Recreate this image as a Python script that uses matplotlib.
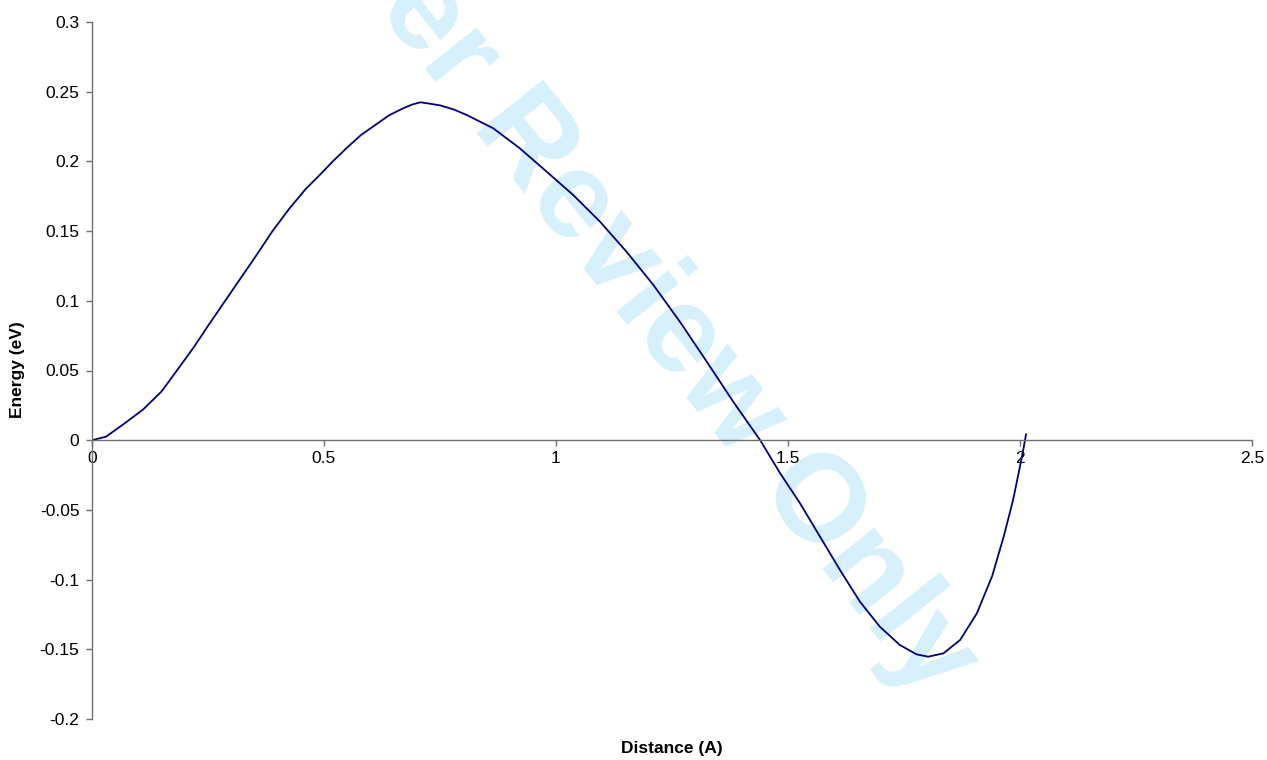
import matplotlib
matplotlib.use("Agg")
import matplotlib.pyplot as plt

plt.rcParams['font.family'] = ['Liberation Sans', 'DejaVu Sans']

# energy profile
distance = [0.0, 0.03, 0.068, 0.11, 0.15, 0.183, 0.22, 0.25, 0.287, 0.32,
            0.355, 0.389, 0.425, 0.46, 0.49, 0.519, 0.55, 0.58, 0.61, 0.64,
            0.67, 0.69, 0.708, 0.73, 0.75, 0.78, 0.8075, 0.865, 0.922, 0.98,
            1.037, 1.095, 1.152, 1.21, 1.267, 1.325, 1.382, 1.44, 1.483, 1.526,
            1.569, 1.612, 1.655, 1.698, 1.741, 1.777, 1.802, 1.835, 1.871, 1.907,
            1.94, 1.965, 1.985, 1.998, 2.007, 2.013]
energy = [0.0, 0.0025, 0.0115, 0.022, 0.035, 0.05, 0.067, 0.082, 0.1, 0.116,
          0.133, 0.15, 0.166, 0.180, 0.190, 0.2, 0.210, 0.219, 0.226, 0.233,
          0.238, 0.2408, 0.2424, 0.2413, 0.2402, 0.2372, 0.2333, 0.2237, 0.2094, 0.1926,
          0.1759, 0.1567, 0.1352, 0.1113, 0.085, 0.0563, 0.0276, 0.0, -0.0237, -0.0453,
          -0.0692, -0.0931, -0.1158, -0.1338, -0.1469, -0.1536, -0.1553, -0.1529, -0.1433, -0.1242,
          -0.0975, -0.069, -0.043, -0.022, -0.007, 0.0042]

x_ticks = [0, 0.5, 1, 1.5, 2, 2.5]
x_labels = ['0', '0.5', '1', '1.5', '2', '2.5']
y_ticks = [0.3, 0.25, 0.2, 0.15, 0.1, 0.05, 0, -0.05, -0.1, -0.15, -0.2]
y_labels = ['0.3', '0.25', '0.2', '0.15', '0.1', '0.05', '0', '-0.05', '-0.1', '-0.15', '-0.2']

fig = plt.figure(figsize=(12.67, 7.6), dpi=100)
ax = fig.add_axes([92 / 1267, 1 - 719 / 760, 1160 / 1267, 697 / 760])
ax.patch.set_alpha(0)

# watermark, under everything
fig.text(532 / 1267, 1 - 204 / 760, 'For Peer Review Only', color='#d6f0fc',
         fontsize=89, fontweight='bold', rotation=-51.5, rotation_mode='anchor',
         ha='center', va='baseline', zorder=-5)

ax.plot(distance, energy, color='#000080', lw=1.3)

ax.set_xlim(0, 2.5)
ax.set_ylim(-0.2, 0.3)
ax.spines['top'].set_visible(False)
ax.spines['right'].set_visible(False)
ax.spines['bottom'].set_position(('data', 0))
for s in ('left', 'bottom'):
    ax.spines[s].set_color('#707070')
    ax.spines[s].set_linewidth(1.0)

ax.set_xticks(x_ticks)
ax.set_xticklabels(x_labels)
ax.set_yticks(y_ticks)
ax.set_yticklabels(y_labels)
ax.tick_params(axis='both', direction='out', length=4, width=1, color='#707070',
               labelsize=12.5, labelcolor='black')
ax.tick_params(axis='x', pad=4)
ax.tick_params(axis='y', pad=5)

fig.text(18 / 1267, 1 - 370 / 760, 'Energy (eV)', rotation=90, ha='center', va='center',
         fontsize=12.5, fontweight='bold')
fig.text(672 / 1267, 1 - 749 / 760, 'Distance (A)', ha='center', va='center',
         fontsize=12.5, fontweight='bold')

fig.savefig('out.png', dpi=100)
